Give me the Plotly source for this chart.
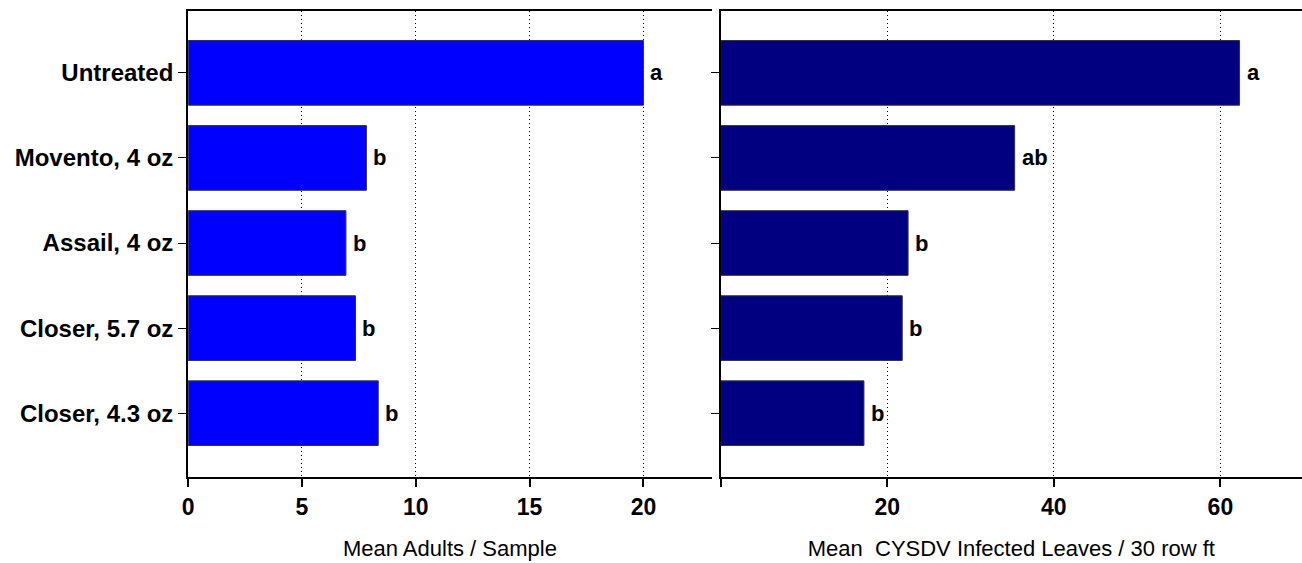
import plotly.graph_objects as go

treatments = ["Untreated", "Movento, 4 oz", "Assail, 4 oz", "Closer, 5.7 oz", "Closer, 4.3 oz"]
adults = [20.0, 7.83, 6.93, 7.35, 8.35]
adults_letters = ["a", "b", "b", "b", "b"]
cysdv = [62.3, 35.3, 22.5, 21.8, 17.2]
cysdv_letters = ["a", "ab", "b", "b", "b"]

left_ticks = [0, 5, 10, 15, 20]
right_ticks = [0, 20, 40, 60]
right_ticklabels = ["", "20", "40", "60"]

FONT = "Liberation Sans, Arial, sans-serif"
FS_Y = 24
FS_X = 23
FS_T = 22
FS_L = 22

fig = go.Figure()
fig.add_trace(go.Bar(
    y=treatments, x=adults, orientation="h", width=0.76,
    marker=dict(color="#0000FF", line=dict(color="#333333", width=1)),
    xaxis="x", yaxis="y", showlegend=False, hoverinfo="x+y",
))
fig.add_trace(go.Bar(
    y=treatments, x=cysdv, orientation="h", width=0.76,
    marker=dict(color="#000080", line=dict(color="#333333", width=1)),
    xaxis="x2", yaxis="y2", showlegend=False, hoverinfo="x+y",
))

annotations = []
for t, v, l in zip(treatments, adults, adults_letters):
    annotations.append(dict(x=v, y=t, xref="x", yref="y", text="<b>%s</b>" % l,
                            showarrow=False, xanchor="left", xshift=5,
                            font=dict(family=FONT, size=FS_L, color="black")))
for t, v, l in zip(treatments, cysdv, cysdv_letters):
    annotations.append(dict(x=v, y=t, xref="x2", yref="y2", text="<b>%s</b>" % l,
                            showarrow=False, xanchor="left", xshift=5,
                            font=dict(family=FONT, size=FS_L, color="black")))

W, H = 1302, 563
yrange = [4.75, -0.727]

common_x = dict(
    showline=True, linecolor="black", linewidth=2, mirror=True,
    ticks="outside", ticklen=8, tickwidth=2, tickcolor="black",
    showgrid=True, gridcolor="black", gridwidth=1, griddash="1px,3px",
    zeroline=False, tickfont=dict(family=FONT, size=FS_X, color="black", weight="bold"),
)
common_y = dict(
    showline=True, linecolor="black", linewidth=2, mirror=False,
    ticks="outside", ticklen=8, tickwidth=1, tickcolor="black",
    showgrid=False, zeroline=False, type="category",
    categoryorder="array", categoryarray=treatments, range=yrange,
)

fig.update_layout(
    width=W, height=H,
    margin=dict(l=0, r=0, t=11, b=86),
    plot_bgcolor="white", paper_bgcolor="white",
    font=dict(family=FONT, size=FS_T, color="black"),
    xaxis=dict(domain=[183 / W, 709 / W], range=[0, 23.0],
               tickvals=left_ticks, ticktext=[str(v) for v in left_ticks],
               title=dict(text="Mean Adults / Sample", font=dict(family=FONT, size=FS_T), standoff=22),
               anchor="y", **common_x),
    yaxis=dict(domain=[0, 1], anchor="x",
               tickfont=dict(family=FONT, size=FS_Y, color="black", weight="bold"),
               showticklabels=True, **common_y),
    xaxis2=dict(domain=[718 / W, 1.0], range=[0, 69.8],
                tickvals=right_ticks, ticktext=right_ticklabels,
                title=dict(text="Mean  CYSDV Infected Leaves / 30 row ft", font=dict(family=FONT, size=FS_T), standoff=22),
                anchor="y2", **common_x),
    yaxis2=dict(domain=[0, 1], anchor="x2", showticklabels=False, **common_y),
    annotations=annotations,
)

fig.write_html("out.html", config={"displayModeBar": False},
               post_script="document.body.style.margin='0';document.body.style.padding='0';")
